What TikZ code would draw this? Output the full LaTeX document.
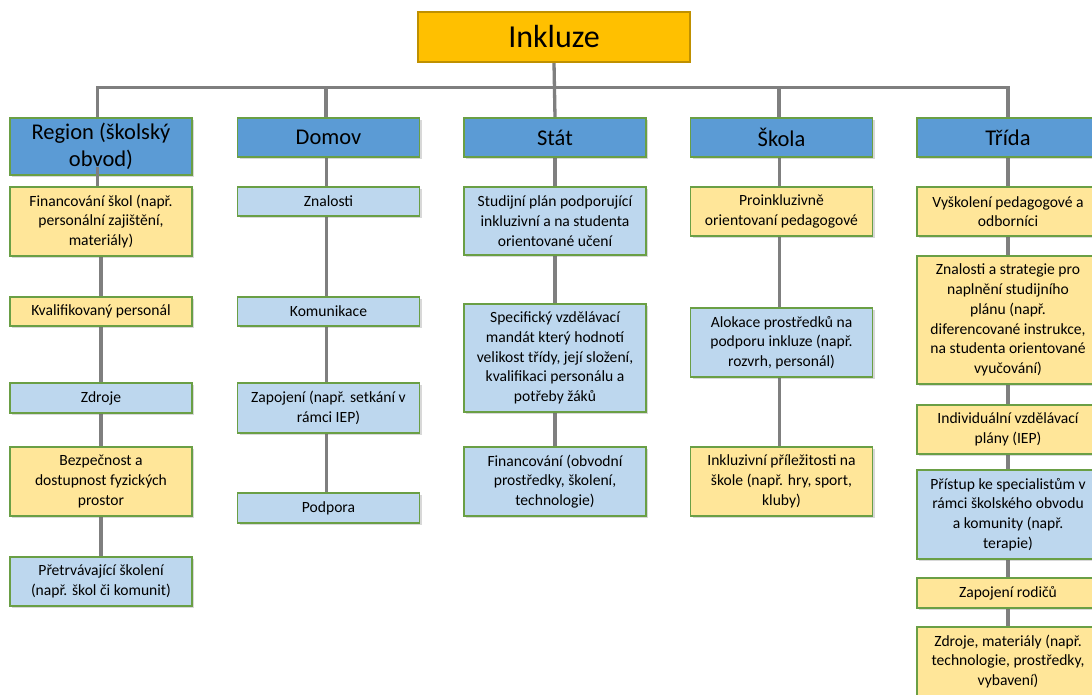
\documentclass[tikz,border=0pt]{standalone}
\usepackage{fontspec}
\setmainfont{Carlito}
\usetikzlibrary{shadows,backgrounds}
\definecolor{hdrblue}{HTML}{5B9BD5}
\definecolor{ltblue}{HTML}{BDD7EE}
\definecolor{ltyel}{HTML}{FFE699}
\definecolor{gold}{HTML}{FFC000}
\definecolor{golddark}{HTML}{BF9000}
\definecolor{bgreen}{HTML}{6A9F45}
\definecolor{conngray}{HTML}{7F7F7F}
\tikzset{
  boxbase/.style={draw=bgreen, line width=1.1pt, align=center, inner sep=0pt,
    minimum width=182pt, text=black,
    drop shadow={shadow xshift=2.2pt, shadow yshift=-2.2pt, opacity=0.25, fill=black!60}},
  hdr/.style={boxbase, fill=hdrblue, minimum height=39pt,
    font={\fontsize{22.5}{26.7}\selectfont}},
  bluebox/.style={boxbase, fill=ltblue, font={\fontsize{15.6}{19.7}\selectfont}},
  yelbox/.style={boxbase, fill=ltyel, font={\fontsize{15.6}{19.7}\selectfont}},
  rootbox/.style={draw=golddark, line width=1.1pt, fill=gold, inner sep=0pt,
    minimum width=272pt, minimum height=50pt, font={\fontsize{32}{38}\selectfont}},
  conn/.style={draw=conngray, line width=3.3pt}
}
\begin{document}
\begin{tikzpicture}[x=1pt,y=-1pt]
\useasboundingbox (0,0) rectangle (1092,695);
\clip (0,0) rectangle (1092,695);

% root
\node[rootbox] (ink) at (554,37) {Inkluze};

% headers
\node[hdr, minimum height=57pt] (R0) at (101,146.5) {Region (školský\\obvod)};
\node[hdr] (D0) at (328.5,137.5) {Domov};
\node[hdr] (S0) at (555,137.5) {Stát};
\node[hdr] (K0) at (781.5,137.5) {Škola};
\node[hdr] (T0) at (1008,137.5) {Třída};

% Region column
\node[yelbox, minimum height=69pt] (R1) at (101,221.5) {Financování škol (např.\\personální zajištění,\\materiály)};
\node[yelbox, minimum height=29pt] (R2) at (101,311.5) {Kvalifikovaný personál};
\node[bluebox, minimum height=30pt] (R3) at (101,398) {Zdroje};
\node[yelbox, minimum height=69pt] (R4) at (101,481.5) {Bezpečnost a\\dostupnost fyzických\\prostor};
\node[bluebox, minimum height=49pt] (R5) at (101,581.5) {Přetrvávající školení\\(např. škol či komunit)};

% Domov column
\node[bluebox, minimum height=29pt] (D1) at (328.5,201.5) {Znalosti};
\node[bluebox, minimum height=29pt] (D2) at (328.5,311.5) {Komunikace};
\node[bluebox, minimum height=50pt] (D3) at (328.5,408) {Zapojení (např. setkání v\\rámci IEP)};
\node[bluebox, minimum height=30pt] (D4) at (328.5,508) {Podpora};

% Stát column
\node[bluebox, minimum height=68pt] (S1) at (555,221) {Studijní plán podporující\\inkluzivní a na studenta\\orientované učení};
\node[bluebox, minimum height=108pt] (S2) at (555,358) {Specifický vzdělávací\\mandát který hodnotí\\velikost třídy, její složení,\\kvalifikaci personálu a\\potřeby žáků};
\node[bluebox, minimum height=69pt] (S3) at (555,481.5) {Financování (obvodní\\prostředky, školení,\\technologie)};

% Škola column
\node[yelbox, minimum height=49pt] (K1) at (781.5,211.5) {Proinkluzivně\\orientovaní pedagogové};
\node[bluebox, minimum height=69pt] (K2) at (781.5,342.5) {Alokace prostředků na\\podporu inkluze (např.\\rozvrh, personál)};
\node[yelbox, minimum height=69pt] (K3) at (781.5,481.5) {Inkluzivní příležitosti na\\škole (např. hry, sport,\\kluby)};

% Třída column
\node[yelbox, minimum height=49pt] (T1) at (1008,211.5) {Vyškolení pedagogové a\\odborníci};
\node[yelbox, minimum height=128pt] (T2) at (1008,320) {Znalosti a strategie pro\\naplnění studijního\\plánu (např.\\diferencované instrukce,\\na studenta orientované\\vyučování)};
\node[yelbox, minimum height=49pt] (T3) at (1008,429.5) {Individuální vzdělávací\\plány (IEP)};
\node[bluebox, minimum height=89pt] (T4) at (1008,514.5) {Přístup ke specialistům v\\rámci školského obvodu\\a komunity (např.\\terapie)};
\node[yelbox, minimum height=30pt] (T5) at (1008,593) {Zapojení rodičů};
\node[yelbox, minimum height=69pt] (T6) at (1008,661.5) {Zdroje, materiály (např.\\technologie, prostředky,\\vybavení)};

% connectors (behind boxes)
\begin{pgfonlayer}{background}
  \fill[white] (0,0) rectangle (1092,695);
  \draw[conn] (ink.south) -- (S0.north);
  \draw[conn] ([xshift=-3.5pt]R0.north) -- ++(0,-30) -| (T0.north);
  \draw[conn] ([xshift=-2.5pt]D0.north) -- ++(0,-30);
  \draw[conn] ([xshift=-2.5pt]K0.north) -- ++(0,-30);
  % Region
  \draw[conn] (R1.south) -- (R2.north);
  \draw[conn] (R2.south) -- (R3.north);
  \draw[conn] (R3.south) -- (R4.north);
  \draw[conn] (R4.south) -- (R5.north);
  % Domov
  \draw[conn] ([xshift=-2pt]D0.south) -- ([xshift=-2pt]D1.north);
  \draw[conn] ([xshift=-2pt]D1.south) -- ([xshift=-2pt]D2.north);
  \draw[conn] ([xshift=-2pt]D2.south) -- ([xshift=-2pt]D3.north);
  \draw[conn] ([xshift=-2pt]D3.south) -- ([xshift=-2pt]D4.north);
  % Stát
  \draw[conn] (S0.south) -- (S1.north);
  \draw[conn] (S1.south) -- (S2.north);
  \draw[conn] (S2.south) -- (S3.north);
  % Škola
  \draw[conn] ([xshift=-2pt]K0.south) -- ([xshift=-2pt]K1.north);
  \draw[conn] ([xshift=-2pt]K1.south) -- ([xshift=-2pt]K2.north);
  \draw[conn] ([xshift=-2pt]K2.south) -- ([xshift=-2pt]K3.north);
  % Třída
  \draw[conn] (T0.south) -- (T1.north);
  \draw[conn] (T1.south) -- (T2.north);
  \draw[conn] (T2.south) -- (T3.north);
  \draw[conn] (T3.south) -- (T4.north);
  \draw[conn] (T4.south) -- (T5.north);
  \draw[conn] (T5.south) -- (T6.north);
\end{pgfonlayer}
% Region connector drawn over the header box
\coordinate (rstart) at ([xshift=-3.5pt,yshift=9pt]R0.south);
\draw[conn] (rstart) -- (rstart |- R1.north);
\end{tikzpicture}
\end{document}
